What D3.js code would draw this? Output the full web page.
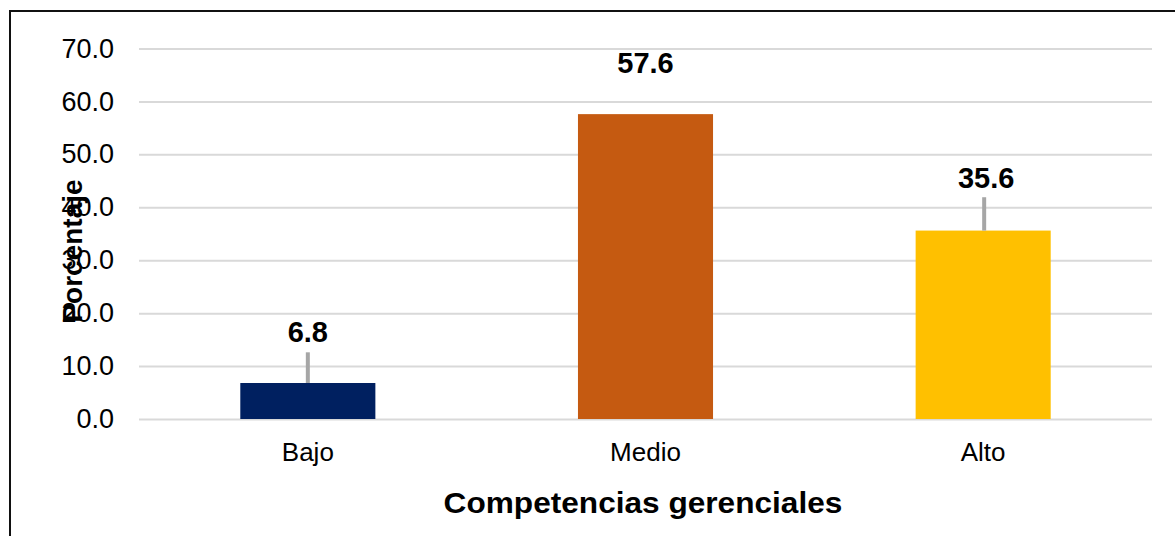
<!DOCTYPE html>
<html>
<head>
<meta charset="utf-8">
<script src="https://cdn.jsdelivr.net/npm/d3@7"></script>
<style>
  body { margin: 0; background: #fff; }
  text { font-family: "Liberation Sans", Arial, sans-serif; }
</style>
</head>
<body>
<svg id="chart" width="1175" height="536"></svg>
<script>
const categories = ['Bajo', 'Medio', 'Alto'];
const values = [6.8, 57.6, 35.6];
const colors = ['#002060', '#c55a11', '#ffc000'];
const leaderTop = [12.6, null, 41.9]; // leader line tops (data units)
const labelPos = [14.6, 65.4, 43.6];  // value label baselines (data units)
const yTicks = [0, 10, 20, 30, 40, 50, 60, 70];

const svg = d3.select('#chart');
const margin = {left: 139, right: 23, top: 48.5, bottom: 117};
const width = 1175, height = 536;
const innerWidth = width - margin.left - margin.right;
const innerHeight = height - margin.top - margin.bottom;

// outer frame (right/bottom edges run off the picture)
svg.append('rect')
  .attr('x', 10).attr('y', 11)
  .attr('width', 1200).attr('height', 600)
  .attr('fill', 'none').attr('stroke', '#111').attr('stroke-width', 2);

const g = svg.append('g')
  .attr('transform', `translate(${margin.left},${margin.top})`);

const xScale = d3.scaleBand().domain(categories).range([0, innerWidth]);
const yScale = d3.scaleLinear().domain([0, 70]).range([innerHeight, 0]);

const yAxis = d3.axisLeft(yScale)
  .tickValues(yTicks)
  .tickSize(-innerWidth)
  .tickPadding(25)
  .tickFormat(d3.format('.1f'));

const yAxisG = g.append('g').attr('class', 'yAxis').call(yAxis);
yAxisG.select('.domain').remove();
yAxisG.selectAll('line').attr('stroke', '#d9d9d9').attr('stroke-width', 2);
yAxisG.selectAll('text')
  .attr('fill', '#000').style('font-size', '27px');

const barW = xScale.bandwidth() * 0.4;
const cx = i => xScale(categories[i]) + xScale.bandwidth() / 2;

g.selectAll('.bar').data(values).enter().append('rect')
  .attr('class', 'bar')
  .attr('x', (d, i) => cx(i) - barW / 2)
  .attr('y', d => yScale(d))
  .attr('width', barW)
  .attr('height', d => innerHeight - yScale(d))
  .attr('fill', (d, i) => colors[i]);

// leader lines
const leaders = values.map((v, i) => ({v, i, top: leaderTop[i]})).filter(d => d.top != null);
g.selectAll('.leader').data(leaders).enter().append('line')
  .attr('class', 'leader')
  .attr('x1', d => cx(d.i) + (d.i === 2 ? 1 : 0))
  .attr('x2', d => cx(d.i) + (d.i === 2 ? 1 : 0))
  .attr('y1', d => yScale(d.v))
  .attr('y2', d => yScale(d.top))
  .attr('stroke', '#a6a6a6').attr('stroke-width', 4);

// value labels
g.selectAll('.val').data(values).enter().append('text')
  .attr('class', 'val')
  .attr('x', (d, i) => cx(i) + (i === 2 ? 3 : 0))
  .attr('y', (d, i) => yScale(labelPos[i]))
  .attr('text-anchor', 'middle')
  .style('font-size', '29px').style('font-weight', 'bold')
  .text(d => d.toFixed(1));

// category labels
g.selectAll('.cat').data(categories).enter().append('text')
  .attr('class', 'cat')
  .attr('x', (d, i) => cx(i))
  .attr('y', innerHeight + 42)
  .attr('text-anchor', 'middle')
  .style('font-size', '26px')
  .text(d => d);

// axis titles
svg.append('text')
  .attr('transform', 'translate(643,513) scale(1.09,1)')
  .attr('text-anchor', 'middle')
  .style('font-size', '29px').style('font-weight', 'bold')
  .text('Competencias gerenciales');

svg.append('text')
  .attr('transform', 'translate(82,251) rotate(-90)')
  .attr('text-anchor', 'middle')
  .style('font-size', '28px').style('font-weight', 'bold')
  .text('Porcentaje');
</script>
</body>
</html>
